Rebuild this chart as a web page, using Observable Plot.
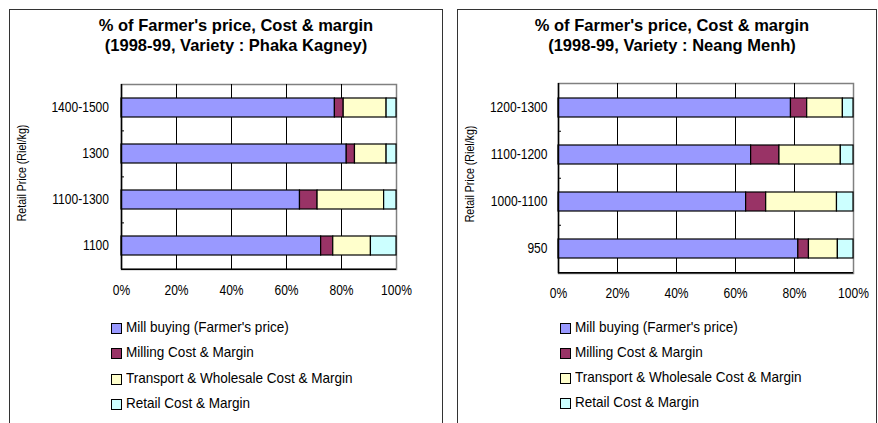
<!DOCTYPE html>
<html>
<head>
<meta charset="utf-8">
<script src="https://cdn.jsdelivr.net/npm/d3@7"></script>
<script src="https://cdn.jsdelivr.net/npm/@observablehq/plot@0.6"></script>
<style>
  body { margin: 0; background: #fff; font-family: "Liberation Sans", Arial, sans-serif; color: #000; }
  #page { position: relative; width: 878px; height: 423px; overflow: hidden; background: #fff; }
  .panel { position: absolute; top: 9px; height: 440px; border: 1.5px solid #333; box-sizing: border-box; }
  .title { position: absolute; font-weight: bold; font-size: 16.5px; line-height: 20px; text-align: center; white-space: nowrap; transform: translateX(-50%); }
  .ytitle { position: absolute; font-size: 12.2px; white-space: nowrap; transform: translate(-50%, -50%) rotate(-90deg) scaleX(0.87); }
  .legend-row { position: absolute; font-size: 14.4px; white-space: nowrap; line-height: 17px; transform: scaleX(0.94); transform-origin: left center; }
  .swatch { position: absolute; width: 9px; height: 9px; border: 1px solid #000; }
  .chart { position: absolute; top: 0; }
</style>
</head>
<body>
<div id="page"></div>
<script>
// Cost components, in stacking order
const components = [
  "Mill buying (Farmer's price)",
  "Milling Cost & Margin",
  "Transport & Wholesale Cost & Margin",
  "Retail Cost & Margin"
];
const componentColors = ["#9999FF", "#993366", "#FFFFCC", "#CCFFFF"];

// Phaka Kagney, share of retail price (%)
const pkPrices = ["1400-1500", "1300", "1100-1300", "1100"];
const pkMill = [77.6, 81.9, 64.9, 72.6];
const pkMilling = [3.2, 3.0, 6.4, 4.4];
const pkTransport = [15.6, 11.5, 24.2, 13.7];
const pkRetail = [3.6, 3.6, 4.5, 9.3];

// Neang Menh, share of retail price (%)
const nmPrices = ["1200-1300", "1100-1200", "1000-1100", "950"];
const nmMill = [78.8, 65.3, 63.6, 81.3];
const nmMilling = [5.5, 9.6, 6.8, 3.6];
const nmTransport = [12.1, 20.8, 24.0, 9.8];
const nmRetail = [3.6, 4.3, 5.6, 5.3];

const xTicks = [0, 20, 40, 60, 80, 100];
const yTitle = "Retail Price (Riel/kg)";

function rowsFor(prices, series) {
  const rows = [];
  prices.forEach((p, i) => {
    components.forEach((c, j) => rows.push({price: p, component: c, value: series[j][i]}));
  });
  return rows;
}

const page = document.getElementById("page");

function panel(cfg) {
  const box = document.createElement("div");
  box.className = "panel";
  box.style.left = cfg.boxLeft + "px";
  box.style.width = cfg.boxWidth + "px";
  page.appendChild(box);

  const title = document.createElement("div");
  title.className = "title";
  title.style.left = cfg.titleX + "px";
  title.style.top = "15px";
  title.innerHTML = "% of Farmer's price, Cost &amp; margin<br>" + cfg.subtitle;
  page.appendChild(title);

  const {width, height, marginLeft, marginRight, marginTop, marginBottom} = cfg;
  const plotW = width - marginLeft - marginRight;
  const plotH = height - marginTop - marginBottom;
  const step = plotH / cfg.prices.length;
  const tickLen = 3 * 100 / plotW; // 3px expressed in x units

  const chart = Plot.plot({
    width, height, marginLeft, marginRight, marginTop, marginBottom,
    style: {background: "transparent", fontSize: "14px", fontFamily: "'Liberation Sans', Arial, sans-serif", color: "#000"},
    x: {domain: [0, 100]},
    y: {domain: cfg.prices, type: "band", paddingInner: cfg.padding, paddingOuter: cfg.padding / 2},
    color: {domain: components, range: componentColors},
    marks: [
      Plot.frame({stroke: "#808080", strokeWidth: 1.5}),
      Plot.ruleX(xTicks.slice(1, -1), {stroke: "#000", strokeWidth: 1}),
      Plot.barX(rowsFor(cfg.prices, cfg.series), Plot.stackX({
        x: "value", y: "price", fill: "component", stroke: "#000", strokeWidth: 1.2
      })),
      Plot.ruleX([0], {stroke: "#000", strokeWidth: 1.5}),
      Plot.ruleY([cfg.prices[cfg.prices.length - 1]], {dy: step / 2, stroke: "#000", strokeWidth: 1.5}),
      Plot.ruleY(cfg.prices.slice(1), {x1: 0, x2: tickLen, dy: -step / 2, stroke: "#000"}),
      Plot.axisX({ticks: xTicks, tickFormat: d => d + "%", tickSize: 0, tickPadding: cfg.xPad, label: null, fill: "#000", fontSize: 14}),
      Plot.axisY({tickSize: 0, tickPadding: cfg.yPad, label: null, fill: "#000", fontSize: 14})
    ]
  });
  chart.classList.add("chart");
  chart.style.left = cfg.svgLeft + "px";
  page.appendChild(chart);

  // narrow the tick labels to the condensed lettering of the axes
  d3.select(chart).selectAll("text").each(function() {
    const len = this.getComputedTextLength();
    this.setAttribute("textLength", len * 0.86);
    this.setAttribute("lengthAdjust", "spacingAndGlyphs");
  });

  const yt = document.createElement("div");
  yt.className = "ytitle";
  yt.textContent = yTitle;
  yt.style.left = cfg.yTitleX + "px";
  yt.style.top = (marginTop + plotH / 2 - 4) + "px";
  page.appendChild(yt);

  components.forEach((c, i) => {
    const cy = cfg.legendY[i];
    const sw = document.createElement("div");
    sw.className = "swatch";
    sw.style.left = cfg.legendX + "px";
    sw.style.top = (cy - 5.5) + "px";
    sw.style.background = componentColors[i];
    page.appendChild(sw);
    const t = document.createElement("div");
    t.className = "legend-row";
    t.style.left = (cfg.legendX + 15) + "px";
    t.style.top = (cy - 9) + "px";
    t.textContent = c;
    page.appendChild(t);
  });
}

panel({
  boxLeft: 9, boxWidth: 434,
  titleX: 236, subtitle: "(1998-99, Variety : Phaka Kagney)",
  prices: pkPrices, series: [pkMill, pkMilling, pkTransport, pkRetail],
  svgLeft: 0, width: 443, height: 300,
  marginLeft: 121, marginRight: 47, marginTop: 84, marginBottom: 31,
  padding: 0.59, xPad: 16, yPad: 12.5,
  yTitleX: 22,
  legendX: 111, legendY: [328, 353, 379, 404]
});

panel({
  boxLeft: 457, boxWidth: 420,
  titleX: 672, subtitle: "(1998-99, Variety : Neang Menh)",
  prices: nmPrices, series: [nmMill, nmMilling, nmTransport, nmRetail],
  svgLeft: 458, width: 419, height: 300,
  marginLeft: 100, marginRight: 24, marginTop: 83, marginBottom: 27,
  padding: 0.6, xPad: 15, yPad: 11,
  yTitleX: 470,
  legendX: 560, legendY: [328, 353, 378, 403]
});
</script>
</body>
</html>
